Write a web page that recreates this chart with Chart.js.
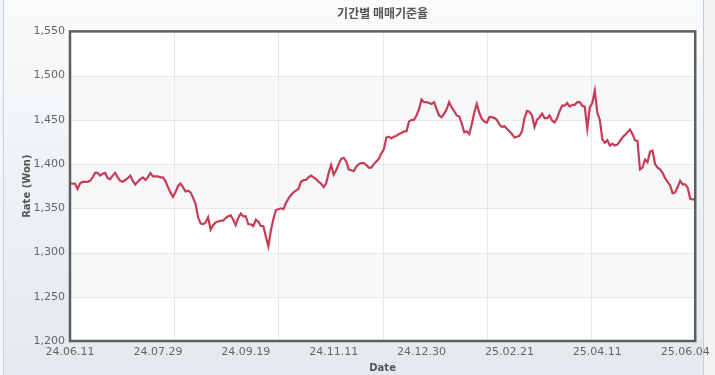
<!DOCTYPE html>
<html>
<head>
<meta charset="utf-8">
<script src="https://cdn.jsdelivr.net/npm/chart.js@4"></script>
<style>
    html, body { margin: 0; padding: 0; background: #f3f5f7; }
    #wrap {
        position: absolute; left: 3px; top: 0; width: 699px; height: 375px;
        border-left: 1px solid #c9ced3; border-right: 1px solid #c9ced3;
        background: linear-gradient(#fafbfc, #e3e9ee);
    }
    #chartBox { position: absolute; left: 0; top: 0; width: 715px; height: 375px; }
</style>
</head>
<body>
<div id="wrap"></div>
<div id="chartBox"><canvas id="rateChart"></canvas></div>
<script>
document.addEventListener('DOMContentLoaded', function () {
    // tick labels on the date axis, one every 35 trading days
    const tickLabels = ['24.06.11', '24.07.29', '24.09.19', '24.11.11', '24.12.30', '25.02.21', '25.04.11', '25.06.04'];
    const tickEvery = 35;

    // daily 매매기준율 (KRW per USD)
    const rates = [
        1378, 1378, 1378, 1372, 1378, 1380, 1380, 1380, 1381, 1385,
        1390, 1390, 1387, 1389, 1390, 1384, 1383, 1387, 1390, 1385,
        1381, 1380, 1382, 1384, 1387, 1381, 1377, 1380, 1383, 1385,
        1382, 1385, 1390, 1386, 1386, 1386, 1385, 1385, 1381, 1374,
        1368, 1363, 1368, 1375, 1378, 1374, 1369, 1370, 1368, 1362,
        1355, 1340, 1333, 1332, 1334, 1340, 1326, 1331, 1334, 1335,
        1336, 1336, 1339, 1341, 1342, 1337, 1331, 1339, 1344, 1341,
        1341, 1332, 1332, 1330, 1337, 1335, 1330, 1330, 1318, 1307,
        1325, 1338, 1348, 1349, 1350, 1349, 1356, 1361, 1365, 1368,
        1370, 1372, 1380, 1382, 1382, 1385, 1387, 1385, 1383, 1380,
        1378, 1374, 1378, 1390, 1399, 1388, 1393, 1400, 1406, 1407,
        1403, 1394, 1393, 1392, 1397, 1400, 1401, 1401, 1399, 1396,
        1396, 1400, 1403, 1406, 1412, 1417, 1430, 1431, 1429, 1431,
        1432, 1434, 1435, 1437, 1437, 1448, 1450, 1450, 1455, 1462,
        1473, 1470, 1470, 1469, 1468, 1470, 1462, 1455, 1453, 1457,
        1462, 1470, 1464, 1460, 1455, 1454, 1446, 1436, 1437, 1434,
        1445, 1458, 1468, 1458, 1451, 1448, 1447, 1453, 1453, 1452,
        1450, 1445, 1442, 1443, 1440, 1437, 1434, 1430, 1431, 1432,
        1437, 1452, 1460, 1459, 1455, 1442, 1450, 1453, 1457, 1452,
        1452, 1455, 1449, 1447, 1452, 1460, 1466, 1466, 1469, 1465,
        1467, 1467, 1470, 1470, 1466, 1465, 1440, 1464, 1469, 1483,
        1458, 1450, 1428, 1424, 1427, 1421, 1423, 1421, 1422, 1426,
        1430, 1433, 1436, 1439, 1434, 1427, 1426, 1394, 1396, 1405,
        1402, 1414, 1415, 1400, 1396, 1394, 1390, 1384, 1380, 1376,
        1367, 1368, 1374, 1381, 1377, 1377, 1373, 1361, 1360, 1360
    ];

    const yMin = 1200;
    const yMax = 1550;
    const yStep = 50;
    const xGridCount = 6;

    // white plot, shaded bands, grid and the dark frame round the plot
    const plotDecor = {
        id: 'plotDecor',
        beforeDatasetsDraw(chart) {
            const { ctx, chartArea: a, scales: { y } } = chart;
            ctx.save();
            ctx.fillStyle = '#ffffff';
            ctx.fillRect(a.left, a.top, a.right - a.left, a.bottom - a.top);
            ctx.fillStyle = '#f6f8fa';
            for (let v = yMin + yStep; v < yMax; v += yStep * 2) {
                const top = y.getPixelForValue(v + yStep);
                const bottom = y.getPixelForValue(v);
                ctx.fillRect(a.left, top, a.right - a.left, bottom - top);
            }
            ctx.strokeStyle = '#e6e8ea';
            ctx.lineWidth = 1;
            for (let v = yMin + yStep; v < yMax; v += yStep) {
                const py = Math.round(y.getPixelForValue(v)) + 0.5;
                ctx.beginPath();
                ctx.moveTo(a.left, py);
                ctx.lineTo(a.right, py);
                ctx.stroke();
            }
            for (let i = 1; i < xGridCount; i++) {
                const px = Math.round(a.left + (a.right - a.left) * i / xGridCount) + 0.5;
                ctx.beginPath();
                ctx.moveTo(px, a.top);
                ctx.lineTo(px, a.bottom);
                ctx.stroke();
            }
            ctx.restore();
        },
        afterDraw(chart) {
            const { ctx, chartArea: a } = chart;
            ctx.save();
            ctx.strokeStyle = '#5e5e5e';
            ctx.lineWidth = 2.5;
            ctx.strokeRect(a.left, a.top, a.right - a.left, a.bottom - a.top);
            ctx.restore();
        }
    };

    const ctx = document.getElementById('rateChart').getContext('2d');
    new Chart(ctx, {
        type: 'line',
        data: {
            datasets: [{
                label: '매매기준율',
                data: rates.map((v, i) => ({ x: i, y: v })),
                borderColor: '#c63d55',
                borderWidth: 2.2,
                pointRadius: 0,
                tension: 0,
                fill: false
            }]
        },
        options: {
            responsive: true,
            maintainAspectRatio: false,
            animation: false,
            layout: { padding: { left: 0, right: 17, top: 0, bottom: 0 } },
            plugins: {
                legend: { display: false },
                tooltip: { enabled: false },
                title: {
                    display: true,
                    fullSize: false,
                    text: '기간별 매매기준율',
                    color: '#555555',
                    font: { family: '"Noto Sans CJK KR", "DejaVu Sans", sans-serif', size: 12, weight: 'bold' },
                    padding: { top: 6, bottom: 11 }
                }
            },
            scales: {
                x: {
                    type: 'linear',
                    min: 0,
                    max: rates.length - 1,
                    grid: { display: false, drawTicks: false },
                    border: { display: false },
                    ticks: {
                        stepSize: tickEvery,
                        includeBounds: false,
                        autoSkip: false,
                        maxRotation: 0,
                        padding: 5,
                        color: '#666666',
                        font: { family: '"DejaVu Sans", Verdana, sans-serif', size: 11 },
                        callback: function (value) {
                            return value % tickEvery === 0 ? tickLabels[value / tickEvery] : '';
                        }
                    },
                    title: {
                        display: true,
                        text: 'Date',
                        color: '#555555',
                        font: { family: '"DejaVu Sans", Verdana, sans-serif', size: 10, weight: 'bold' },
                        padding: { top: 0, bottom: 1 }
                    },
                    afterFit: function (scale) { scale.height = 34; }
                },
                y: {
                    min: yMin,
                    max: yMax,
                    grid: { display: false, drawTicks: false },
                    border: { display: false },
                    ticks: {
                        stepSize: yStep,
                        padding: 5,
                        color: '#666666',
                        font: { family: '"DejaVu Sans", Verdana, sans-serif', size: 11 },
                        callback: function (value) { return value.toLocaleString('en-US'); }
                    },
                    title: {
                        display: true,
                        text: 'Rate (Won)',
                        color: '#555555',
                        font: { family: '"DejaVu Sans", Verdana, sans-serif', size: 10, weight: 'bold' },
                        padding: { top: 21, bottom: 0 }
                    },
                    afterFit: function (scale) { scale.width = 70; }
                }
            }
        },
        plugins: [plotDecor]
    });
});
</script>
</body>
</html>
